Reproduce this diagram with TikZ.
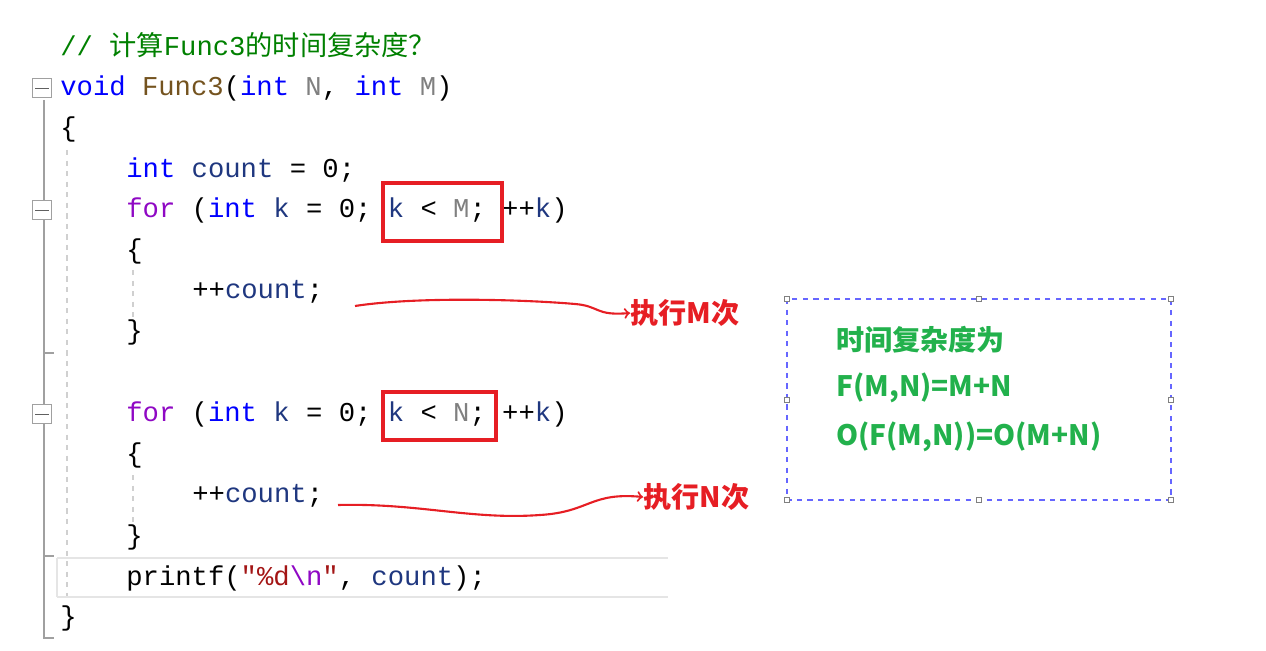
\documentclass[tikz,border=0pt]{standalone}
\usepackage{fontspec}
\usetikzlibrary{positioning}
\newfontfamily\codefont{Liberation Mono}
\newfontfamily\cjk{Noto Sans CJK SC}
\definecolor{kw}{RGB}{0,0,255}
\definecolor{ctl}{RGB}{143,8,196}
\definecolor{cmt}{RGB}{0,128,0}
\definecolor{par}{RGB}{128,128,128}
\definecolor{fn}{RGB}{116,83,31}
\definecolor{var}{RGB}{31,55,127}
\definecolor{str}{RGB}{163,21,21}
\definecolor{note}{RGB}{34,177,76}
\definecolor{mark}{RGB}{230,30,36}
\definecolor{gut}{RGB}{160,160,160}
\newcommand{\K}[1]{\textcolor{kw}{#1}}
\newcommand{\C}[1]{\textcolor{ctl}{#1}}
\newcommand{\V}[1]{\textcolor{var}{#1}}
\newcommand{\PM}[1]{\textcolor{par}{#1}}
\tikzset{
  codeline/.style={anchor=west, inner sep=0pt, font=\codefont\fontsize{15.5}{18}\selectfont},
  redbox/.style={draw=mark, line width=2.2pt},
  scribble/.style={draw=mark, line width=1.2pt, ->},
  redlabel/.style={anchor=west, inner sep=0pt, text=mark, font=\cjk\bfseries\fontsize{16}{18}\selectfont},
  greenline/.style={anchor=west, inner sep=0pt, text=note, font=\cjk\bfseries\fontsize{16}{18}\selectfont},
  foldbox/.style={draw=gut, fill=white, minimum size=11pt, inner sep=0pt},
  handle/.style={draw=gray, fill=white, minimum size=3pt, inner sep=0pt}
}
\begin{document}
\begin{tikzpicture}[x=0.02cm, y=-0.02cm]
    \useasboundingbox (0,0) rectangle (1266,651);
    % Gutter
    \draw[gut, line width=1.2pt] (44,100) -- (44,638) -- (54,638);
    \draw[gut, line width=1.2pt] (44,353) -- (54,353);
    \draw[gut, line width=1.2pt] (44,556) -- (54,556);
    \draw[gut!50, dashed, line width=1pt] (67,150) -- (67,600);
    \draw[gut!50, dashed, line width=1pt] (133,270) -- (133,318);
    \draw[gut!50, dashed, line width=1pt] (133,475) -- (133,522);
    \draw[gray!20, line width=1.5pt] (57,558) -- (668,558) (57,597) -- (668,597) (57,558) -- (57,597);
    \foreach \y/\n in {88/f1, 210/f2, 414/f3} {
        \node[foldbox] (\n) at (42,\y) {};
        \draw[gut!60!black] ([xshift=2pt]\n.west) -- ([xshift=-2pt]\n.east);
    }
    % Code
    \node[codeline] (l0) at (60,45) {\textcolor{cmt}{// {\cjk 计算}Func3{\cjk 的时间复杂度？}}};
    \node[codeline] (l1) at (60,88) {\K{void} \textcolor{fn}{Func3}(\K{int} \PM{N}, \K{int} \PM{M})};
    \node[codeline] (l2) at (60,129) {\{};
    \node[codeline] (l3) at (126,170) {\K{int} \V{count} = 0;};
    \node[codeline] (l4) at (126,210) {\C{for} (\K{int} \V{k} = 0; \V{k} < \PM{M}; ++\V{k})};
    \node[codeline] (l5) at (126,251) {\{};
    \node[codeline] (l6) at (192,292) {++\V{count};};
    \node[codeline] (l7) at (126,332) {\}};
    \node[codeline] (l8) at (126,414) {\C{for} (\K{int} \V{k} = 0; \V{k} < \PM{N}; ++\V{k})};
    \node[codeline] (l9) at (126,455) {\{};
    \node[codeline] (l10) at (192,496) {++\V{count};};
    \node[codeline] (l11) at (126,537) {\}};
    \node[codeline] (l12) at (126,578) {printf(\textcolor{str}{"\%d}\textcolor{ctl}{\textbackslash n}\textcolor{str}{"}, \V{count});};
    \node[codeline] (l13) at (60,618) {\}};
    % Marks
    \draw[redbox] (383,183) rectangle (502,241);
    \draw[redbox] (383,392) rectangle (496,440);
    \node[redlabel] (runM) at (630,313) {执行M次};
    \node[redlabel] (runN) at (643,497) {执行N次};
    \coordinate (sM) at (355,306);
    \coordinate (sN) at (338,505);
    \draw[scribble] (sM) .. controls (420,296) and (530,300) .. (575,304)
        .. controls (600,306) and (595,316) .. (runM.west);
    \draw[scribble] (sN) .. controls (420,503) and (470,520) .. (540,515)
        .. controls (590,512) and (590,492) .. (runN.west);
    % Note box
    \draw[draw=blue!60, dashed, line width=0.6pt] (787,299) rectangle (1171,500);
    \foreach \x in {787,979,1171} {
        \node[handle] at (\x,299) {};
        \node[handle] at (\x,500) {};
    }
    \node[handle] at (787,400) {};
    \node[handle] at (1171,400) {};
    \node[greenline] (t1) at (836,340) {时间复杂度为};
    \node[greenline] (t2) at (836,388) {F(M,N)=M+N};
    \node[greenline] (t3) at (836,437) {O(F(M,N))=O(M+N)};
\end{tikzpicture}
\end{document}
